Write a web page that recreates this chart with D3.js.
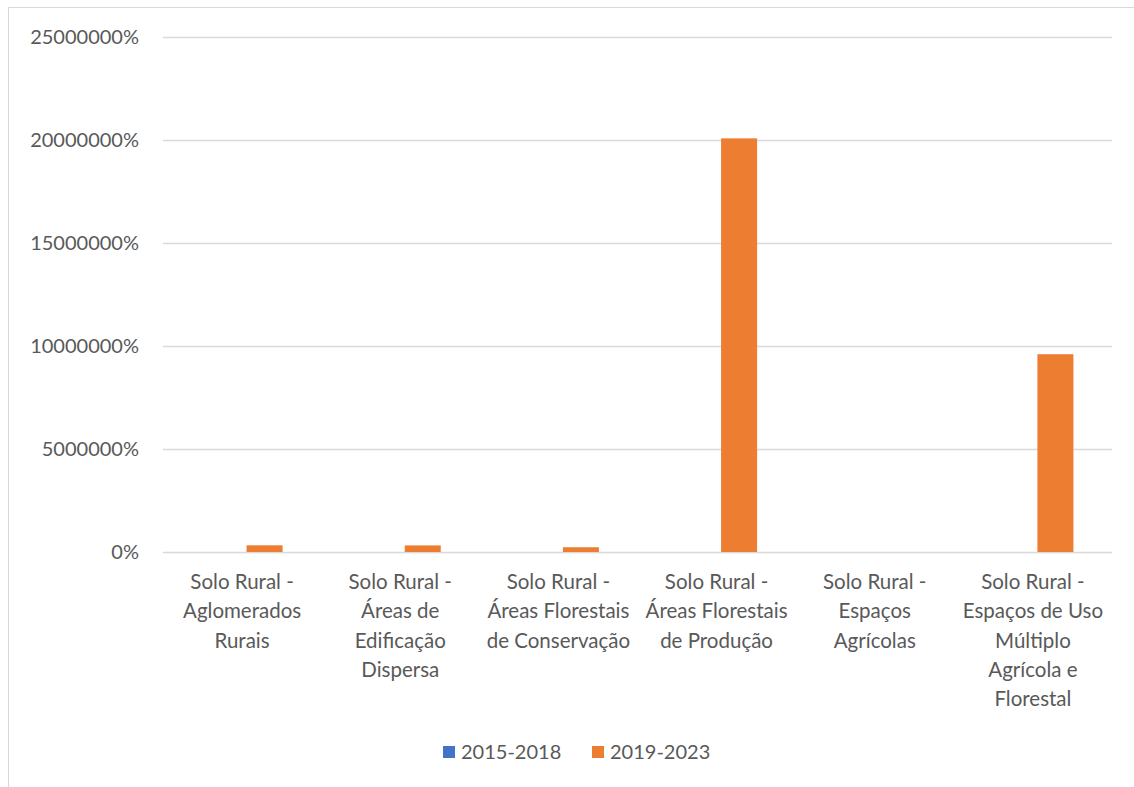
<!DOCTYPE html>
<html><head><meta charset="utf-8">
<script src="https://cdn.jsdelivr.net/npm/d3@7"></script>
<style>body{margin:0;background:#fff}svg{display:block}text{font-family:Lato,"Open Sans",sans-serif;fill:#595959}</style>
</head><body>
<svg id="c" width="1134" height="787"></svg>
<script>
const categories = [
  ["Solo Rural -", "Aglomerados", "Rurais"],
  ["Solo Rural -", "Áreas de", "Edificação", "Dispersa"],
  ["Solo Rural -", "Áreas Florestais", "de Conservação"],
  ["Solo Rural -", "Áreas Florestais", "de Produção"],
  ["Solo Rural -", "Espaços", "Agrícolas"],
  ["Solo Rural -", "Espaços de Uso", "Múltiplo", "Agrícola e", "Florestal"]
];
const seriesNames = ["2015-2018", "2019-2023"];
const values2015 = [0, 0, 0, 0, 0, 0];
const values2019 = [325000, 320000, 230000, 20080000, 0, 9600000];
const yTicks = [0, 5000000, 10000000, 15000000, 20000000, 25000000];
const colors = ["#4472C4", "#ED7D31"];

(function(){
const svg = d3.select("#c");
svg.append("path").attr("d","M8.5,787 V7.5 H1134").attr("fill","none").attr("stroke","#d9d9d9").attr("stroke-width",1);

const mLeft = 163, mRight = 1112, mTop = 37, mBottom = 552;
const idx = d3.range(categories.length);
const x = d3.scaleBand().domain(idx).range([mLeft, mRight]);
const y = d3.scaleLinear().domain([0, 25000000]).range([mBottom, mTop]);

const yAxis = d3.axisLeft(y).tickValues(yTicks).tickSize(-(mRight-mLeft)).tickPadding(24).tickFormat(d => d + "%");
const gy = svg.append("g").attr("transform", `translate(${mLeft},0)`).call(yAxis);
gy.select(".domain").remove();
gy.selectAll(".tick line").attr("stroke", "#d9d9d9").attr("stroke-width", 1.3);
gy.selectAll(".tick text").attr("font-size", 20).attr("fill", "#595959").attr("font-family","Lato, 'Open Sans', sans-serif");

const barW = 36, gap = 9;
const series = [values2015, values2019];
series.forEach((vals, si) => {
  svg.append("g").selectAll("rect").data(idx).join("rect")
    .attr("x", i => x(i) + x.bandwidth()/2 + (si === 0 ? -barW - gap/2 : gap/2))
    .attr("width", barW)
    .attr("y", i => y(vals[i]))
    .attr("height", i => y(0) - y(vals[i]))
    .attr("fill", colors[si]);
});

const gx = svg.append("g");
idx.forEach(i => {
  const cx = x(i) + x.bandwidth()/2;
  const t = gx.append("text").attr("text-anchor","middle").attr("font-size",20.5).attr("x", cx).attr("y", 589);
  categories[i].forEach((ln, k) => {
    t.append("tspan").attr("x", cx).attr("dy", k === 0 ? 0 : 29.3).text(ln);
  });
});

const legX = [443, 592];
seriesNames.forEach((n, i) => {
  svg.append("rect").attr("x", legX[i]).attr("y", 746).attr("width", 12).attr("height", 12).attr("fill", colors[i]);
  svg.append("text").attr("x", legX[i] + 18).attr("y", 759).attr("font-size", 20).text(n);
});
})();
</script>
</body></html>
